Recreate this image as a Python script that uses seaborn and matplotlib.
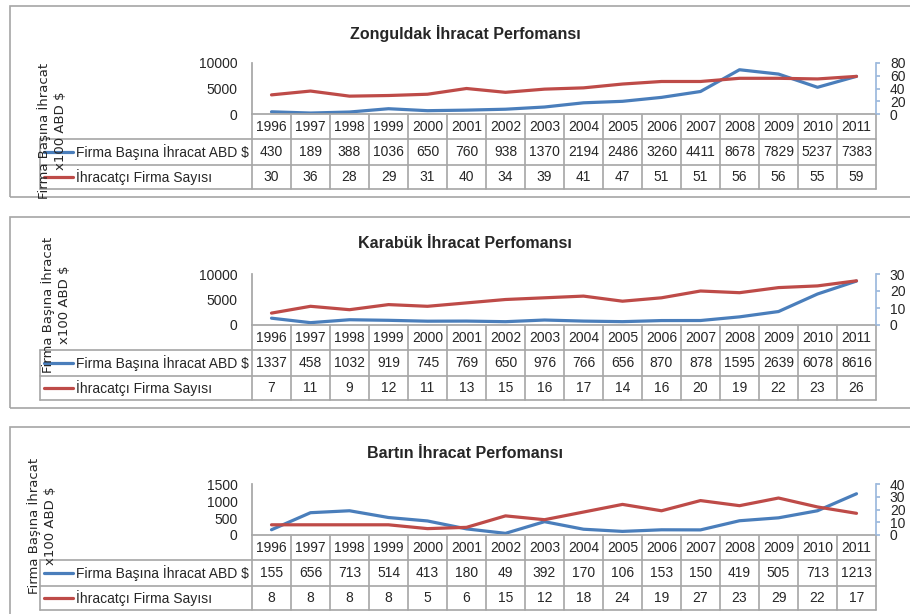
import numpy as np
import matplotlib.pyplot as plt
import seaborn as sns
from matplotlib.transforms import blended_transform_factory
from matplotlib.lines import Line2D
from matplotlib.patches import Rectangle

# ======================
# Data
# ======================
years = [1996, 1997, 1998, 1999, 2000, 2001, 2002, 2003,
         2004, 2005, 2006, 2007, 2008, 2009, 2010, 2011]

zon_export = [430, 189, 388, 1036, 650, 760, 938, 1370,
              2194, 2486, 3260, 4411, 8678, 7829, 5237, 7383]
zon_firms = [30, 36, 28, 29, 31, 40, 34, 39, 41, 47, 51, 51, 56, 56, 55, 59]

kar_export = [1337, 458, 1032, 919, 745, 769, 650, 976,
              766, 656, 870, 878, 1595, 2639, 6078, 8616]
kar_firms = [7, 11, 9, 12, 11, 13, 15, 16, 17, 14, 16, 20, 19, 22, 23, 26]

bar_export = [155, 656, 713, 514, 413, 180, 49, 392,
              170, 106, 153, 150, 419, 505, 713, 1213]
bar_firms = [8, 8, 8, 8, 5, 6, 15, 12, 18, 24, 19, 27, 23, 29, 22, 17]

titles = ["Zonguldak İhracat Perfomansı", "Karabük İhracat Perfomansı", "Bartın İhracat Perfomansı"]
series_names = ["Firma Başına İhracat ABD $", "İhracatçı Firma Sayısı"]
ylabel_text = "Firma Başına İhracat\nx100 ABD $"

# ======================
# Style
# ======================
sns.set_theme(style="white")
plt.rcParams["font.family"] = ["Liberation Sans", "DejaVu Sans"]

W, H = 910, 614
BLUE = "#4A7EBB"
RED = "#BE4B48"
LINE_GRAY = "#A6A6A6"
AXIS_BLUE = "#9DB9DD"
FS = 10
LW = 2.3

fig = plt.figure(figsize=(W / 100, H / 100), dpi=100)
fig.patch.set_facecolor("white")


def fx(x):
    return x / W


def fy(y):
    return 1 - y / H


def draw_panel(top, title, export, firms, lmax, lstep, rmax, rstep, ylab_xy):
    # outer chart border
    fig.add_artist(Rectangle((fx(10), fy(top + 191)), fx(920) - fx(10), 191 / H,
                             transform=fig.transFigure, fill=False,
                             edgecolor=LINE_GRAY, lw=1.2))
    fig.text(fx(465), fy(top + 27), title, ha="center", va="center",
             fontsize=11.5, fontweight="bold")

    ax = fig.add_axes([fx(252), fy(top + 108), fx(876) - fx(252), 51 / H])
    ax.set_facecolor("none")
    xs = np.arange(len(years))
    sns.lineplot(x=xs, y=export, ax=ax, color=BLUE, linewidth=LW)
    ax.set_ylim(0, lmax)
    ax.set_yticks(np.arange(0, lmax + 1, lstep))
    ax.set_xticks([])
    ax.set_xlabel("")
    ax.set_ylabel("")
    for s in ["top", "right"]:
        ax.spines[s].set_visible(False)
    ax.spines["left"].set_color(LINE_GRAY)
    ax.spines["bottom"].set_color(LINE_GRAY)
    ax.tick_params(axis="y", length=0, pad=10.5, labelsize=FS)

    ax2 = ax.twinx()
    sns.lineplot(x=xs, y=firms, ax=ax2, color=RED, linewidth=LW)
    ax2.set_ylim(0, rmax)
    ax2.set_yticks(np.arange(0, rmax + 1, rstep))
    ax2.set_ylabel("")
    for s in ["top", "left", "bottom"]:
        ax2.spines[s].set_visible(False)
    ax2.spines["right"].set_color(AXIS_BLUE)
    ax2.tick_params(axis="y", length=3, color=AXIS_BLUE, pad=7, labelsize=FS)
    ax.set_xlim(-0.5, len(years) - 0.5)
    ax2.set_xlim(-0.5, len(years) - 0.5)
    for ln in ax.lines + ax2.lines:
        ln.set_clip_on(False)

    # data table
    tr = blended_transform_factory(ax.transData, fig.transFigure)
    y_axis = top + 109
    row_lines = [top + 133, top + 159, top + 183]
    for i in range(len(years) + 1):
        fig.add_artist(Line2D([i - 0.5, i - 0.5], [fy(y_axis), fy(row_lines[-1])],
                              transform=tr, color=LINE_GRAY, lw=1.2))
    for yl in row_lines:
        fig.add_artist(Line2D([fx(40), fx(876)], [fy(yl), fy(yl)],
                              transform=fig.transFigure, color=LINE_GRAY, lw=1.2))
    fig.add_artist(Line2D([fx(40), fx(40)], [fy(row_lines[0]), fy(row_lines[-1])],
                          transform=fig.transFigure, color=LINE_GRAY, lw=1.2))

    rows = [(top + 121, years), (top + 146, export), (top + 171, firms)]
    for yc, vals in rows:
        for i, v in enumerate(vals):
            fig.text(i, fy(yc), str(v), transform=tr, ha="center", va="center", fontsize=FS)

    for (yc, _), name, col in zip(rows[1:], series_names, [BLUE, RED]):
        fig.add_artist(Line2D([fx(44), fx(73)], [fy(yc), fy(yc)],
                              transform=fig.transFigure, color=col, lw=LW))
        fig.text(fx(76), fy(yc), name, ha="left", va="center", fontsize=FS)

    fig.text(fx(ylab_xy[0]), fy(ylab_xy[1]), ylabel_text, rotation=90,
             ha="center", va="center", multialignment="center",
             fontsize=9.5, linespacing=1.3, family=["DejaVu Sans"])


draw_panel(6, titles[0], zon_export, zon_firms, 10000, 5000, 80, 20, (52, 131))
draw_panel(217, titles[1], kar_export, kar_firms, 10000, 5000, 30, 10, (56, 305))
draw_panel(427, titles[2], bar_export, bar_firms, 1500, 500, 40, 10, (42, 526))

plt.savefig("out.png", dpi=100)
plt.close()
